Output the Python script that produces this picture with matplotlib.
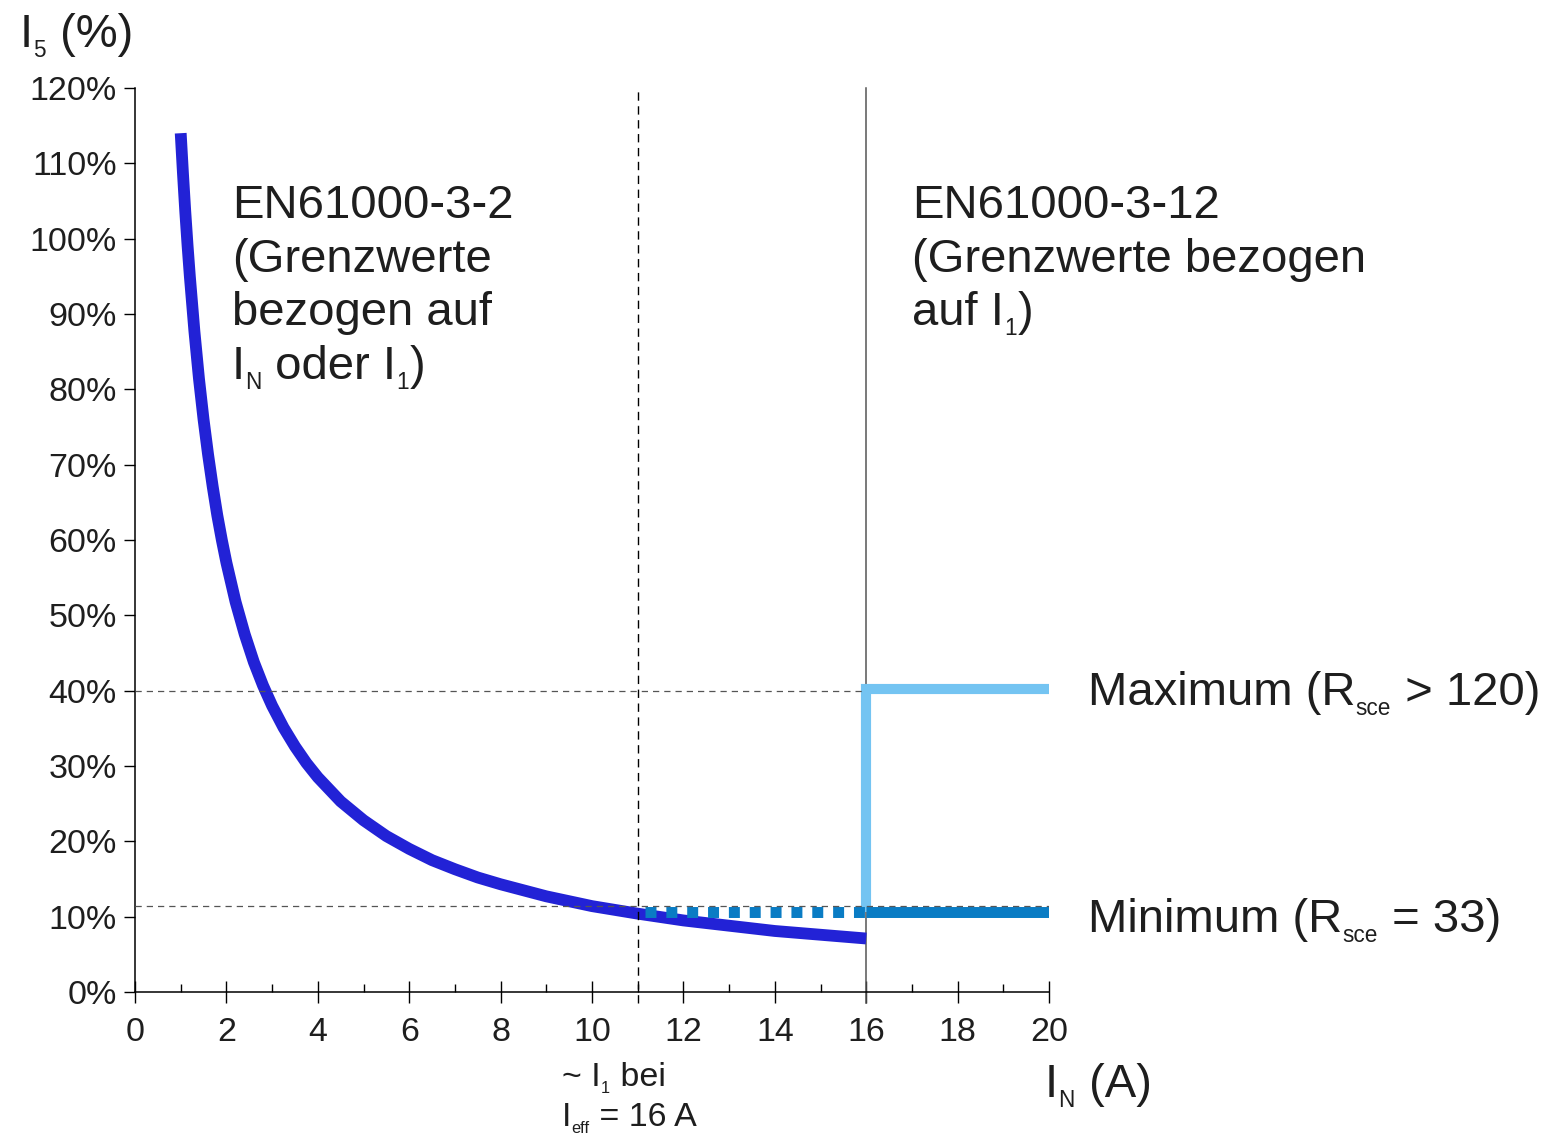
import matplotlib
matplotlib.use('Agg')
import matplotlib.pyplot as plt
from matplotlib.ticker import MultipleLocator, FuncFormatter

plt.rcParams['font.family'] = ['Liberation Sans', 'DejaVu Sans']

# EN61000-3-2 limit curve, I5 in % over rated current IN (A)
curve_x = [1.0, 1.05, 1.1, 1.15, 1.2, 1.3, 1.4, 1.5, 1.6, 1.7, 1.8, 1.9, 2.0, 2.2,
           2.4, 2.6, 2.8, 3.0, 3.25, 3.5, 3.75, 4.0, 4.5, 5.0, 5.5, 6.0, 6.5, 7.0,
           7.5, 8.0, 9.0, 10.0, 11.0, 12.0, 13.0, 14.0, 15.0, 16.0]
curve_y = [114.0, 108.6, 103.6, 99.1, 95.0, 87.7, 81.4, 76.0, 71.3, 67.1, 63.3, 60.0,
           57.0, 51.8, 47.5, 43.8, 40.7, 38.0, 35.1, 32.6, 30.4, 28.5, 25.3, 22.8,
           20.7, 19.0, 17.5, 16.3, 15.2, 14.3, 12.7, 11.4, 10.4, 9.5, 8.8, 8.1,
           7.6, 7.1]

# EN61000-3-12 limits
max_x = [16.0, 16.0, 20.0]
max_y = [10.6, 40.2, 40.2]
min_dotted_x = [11.16, 16.0]
min_solid_x = [16.0, 20.0]
min_level = 10.6

# reference guides
ref_40 = 40.0
ref_low = 11.4
i1_at_16a = 11.0
limit_current = 16.0

yticks = list(range(0, 121, 10))
xticks = list(range(0, 21, 2))

W, H = 1558, 1134
fig = plt.figure(figsize=(W / 100, H / 100), dpi=100)
ax = fig.add_axes([135 / W, 1 - 992 / H, 914 / W, 904 / H])
renderer = fig.canvas.get_renderer()
ink = '#1e1e1e'


def rich_text(x, y, parts, size):
    # x, y in pixels from the top-left corner, y is the baseline;
    # parts are (text, is_subscript)
    for s, sub in parts:
        fs = size * 0.48 if sub else size
        dy = size * 0.28 if sub else 0
        t = fig.text(x / W, 1 - (y + dy) / H, s, fontsize=fs, color=ink,
                     va='baseline', ha='left')
        x += t.get_window_extent(renderer).width + (1 if sub else 0)


dark_blue = '#2222d6'
light_blue = '#74c4f2'
mid_blue = '#0a7cc4'

ax.plot(curve_x, curve_y, color=dark_blue, lw=8.5, solid_capstyle='butt',
        solid_joinstyle='round', zorder=3)
ax.plot(max_x, max_y, color=light_blue, lw=7.3, solid_joinstyle='miter',
        solid_capstyle='butt', zorder=3)
ax.plot(min_dotted_x, [min_level] * 2, color=mid_blue, lw=7.9,
        linestyle=(0, (1, 0.9)), dash_capstyle='butt', zorder=4)
ax.plot(min_solid_x, [min_level] * 2, color=mid_blue, lw=7.9,
        solid_capstyle='butt', zorder=4)

# guide lines
ax.plot([0, limit_current], [ref_40, ref_40], color='#555555', lw=0.9,
        linestyle=(0, (5, 4)), zorder=5)
ax.plot([0, 20], [ref_low, ref_low], color='#555555', lw=0.9,
        linestyle=(0, (5, 4)), zorder=5)
ax.plot([i1_at_16a, i1_at_16a], [-1.5, 120], color='black', lw=1.0,
        linestyle=(0, (6, 4)), clip_on=False, zorder=5)
ax.plot([limit_current, limit_current], [-1.5, 120], color='#555555', lw=1.1,
        clip_on=False, zorder=2)

ax.set_xlim(0, 20)
ax.set_ylim(0, 120)
ax.spines['top'].set_visible(False)
ax.spines['right'].set_visible(False)
for s in ('left', 'bottom'):
    ax.spines[s].set_linewidth(1.1)

ax.set_yticks(yticks)
ax.yaxis.set_major_formatter(FuncFormatter(lambda v, p: f'{int(v)}%'))
ax.set_xticks(xticks)
ax.xaxis.set_minor_locator(MultipleLocator(1))
ax.tick_params(axis='y', direction='out', length=8, width=1.0, pad=5, labelsize=24.5,
               labelcolor=ink)
ax.tick_params(axis='x', which='major', direction='inout', length=16, width=1.0,
               pad=10, labelsize=24.5, labelcolor=ink)
ax.tick_params(axis='x', which='minor', direction='in', length=6, width=1.0)

# text blocks (pixel positions)
big = 34
rich_text(232, 218, [('EN61000-3-2', False)], big)
rich_text(232, 272, [('(Grenzwerte', False)], big)
rich_text(232, 325, [('bezogen auf', False)], big)
rich_text(232, 379, [('I', False), ('N', True), (' oder I', False), ('1', True),
                     (')', False)], big)

rich_text(912, 218, [('EN61000-3-12', False)], big)
rich_text(912, 272, [('(Grenzwerte bezogen', False)], big)
rich_text(912, 325, [('auf I', False), ('1', True), (')', False)], big)

rich_text(1088, 705, [('Maximum (R', False), ('sce', True), (' > 120)', False)], big)
rich_text(1088, 932, [('Minimum (R', False), ('sce', True), (' = 33)', False)], big)

rich_text(20, 47, [('I', False), ('5', True), (' (%)', False)], big)
rich_text(1045, 1097, [('I', False), ('N', True), (' (A)', False)], big)
rich_text(562, 1086, [('~ I', False), ('1', True), (' bei', False)], 24.5)
rich_text(562, 1126, [('I', False), ('eff', True), (' = 16 A', False)], 24.5)

fig.savefig('out.png', dpi=100)
